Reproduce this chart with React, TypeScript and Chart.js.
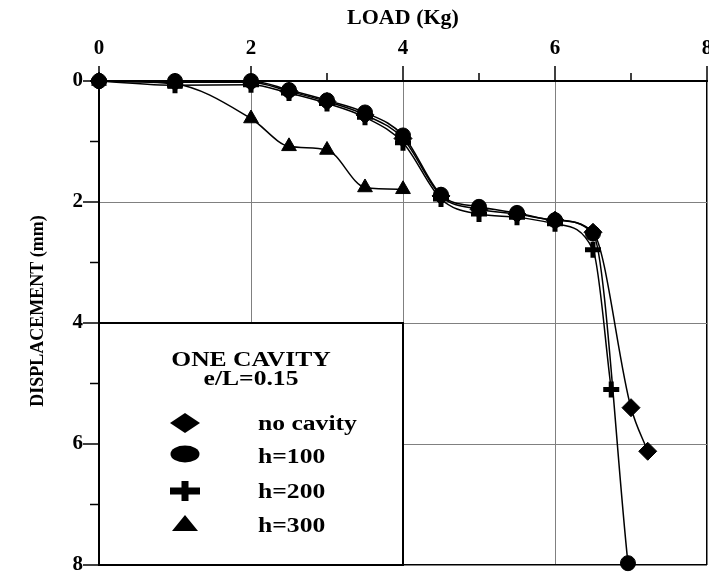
import React, { useEffect, useRef } from 'react';
import { Chart, registerables } from 'chart.js';

Chart.register(...registerables);

// ---- data ----
const loadNoCavity = [0, 1, 2, 2.5, 3, 3.5, 4, 4.5, 5, 5.5, 6, 6.5, 7.0, 7.22];
const dispNoCavity = [0, 0.02, 0.02, 0.17, 0.34, 0.56, 0.95, 1.9, 2.12, 2.2, 2.3, 2.5, 5.4, 6.12];

const loadH100 = [0, 1, 2, 2.5, 3, 3.5, 4, 4.5, 5, 5.5, 6, 6.5, 6.96];
const dispH100 = [0, 0, 0, 0.15, 0.32, 0.52, 0.9, 1.88, 2.08, 2.18, 2.3, 2.52, 7.97];

const loadH200 = [0, 1, 2, 2.5, 3, 3.5, 4, 4.5, 5, 5.5, 6, 6.5, 6.74];
const dispH200 = [0, 0.07, 0.06, 0.2, 0.37, 0.6, 1.02, 1.95, 2.2, 2.25, 2.36, 2.79, 5.1];

const loadH300 = [0, 1, 2, 2.5, 3, 3.5, 4];
const dispH300 = [0, 0.05, 0.62, 1.08, 1.14, 1.76, 1.79];

const xTickLabels = [0, 2, 4, 6, 8];
const yTickLabels = [0, 2, 4, 6, 8];
const xTitle = 'LOAD (Kg)';
const yTitle = 'DISPLACEMENT (mm)';
const legendTitle = ['ONE CAVITY', 'e/L=0.15'];
const seriesNames = ['no cavity', 'h=100', 'h=200', 'h=300'];

const SERIF = "'Liberation Serif', 'Times New Roman', serif";
const GRID_GRAY = '#808080';

const toPoints = (xs: number[], ys: number[]) => xs.map((x, i) => ({ x, y: ys[i] }));

const axisTicksPlugin = {
  id: 'axisTicks',
  afterDatasetsDraw(chart: any) {
    const { ctx, scales } = chart;
    const xs = scales.x;
    const ys = scales.y;
    const top = chart.chartArea.top;
    const left = chart.chartArea.left;
    ctx.save();
    ctx.strokeStyle = '#000';
    ctx.lineWidth = 1.5;
    xs.ticks.forEach((t: any) => {
      const px = xs.getPixelForValue(t.value);
      const len = t.value % 2 === 0 ? 15 : 8;
      ctx.beginPath();
      ctx.moveTo(px, top);
      ctx.lineTo(px, top - len);
      ctx.stroke();
    });
    ys.ticks.forEach((t: any) => {
      const py = ys.getPixelForValue(t.value);
      const len = t.value % 2 === 0 ? 16 : 9;
      ctx.beginPath();
      ctx.moveTo(left, py);
      ctx.lineTo(left - len, py);
      ctx.stroke();
    });
    // vertical axis title
    ctx.fillStyle = '#000';
    ctx.font = `bold 18px ${SERIF}`;
    ctx.textAlign = 'center';
    ctx.textBaseline = 'middle';
    ctx.translate(38, (chart.chartArea.top + chart.chartArea.bottom) / 2 - 12);
    ctx.rotate(-Math.PI / 2);
    ctx.fillText(yTitle, 0, 0);
    ctx.restore();
  },
};

const legendBoxPlugin = {
  id: 'legendBox',
  afterDatasetsDraw(chart: any) {
    const { ctx, scales } = chart;
    const xs = scales.x;
    const ys = scales.y;
    const L = xs.getPixelForValue(0);
    const R = xs.getPixelForValue(4);
    const T = ys.getPixelForValue(4);
    const B = ys.getPixelForValue(8);
    ctx.save();
    ctx.fillStyle = '#fff';
    ctx.fillRect(L, T, R - L, B - T);
    ctx.strokeStyle = '#000';
    ctx.lineWidth = 2;
    ctx.strokeRect(L, T, R - L, B - T);

    const stretch = 1.28;
    ctx.fillStyle = '#000';
    ctx.font = `bold 20px ${SERIF}`;
    ctx.textBaseline = 'middle';
    ctx.textAlign = 'center';
    const cx = (L + R) / 2;
    [38, 57].forEach((dy, i) => {
      ctx.save();
      ctx.translate(cx, T + dy);
      ctx.scale(stretch, 1);
      ctx.fillText(legendTitle[i], 0, 0);
      ctx.restore();
    });

    const symX = L + 86;
    const textX = L + 159;
    const symY = [100, 131, 168, 202];
    const baseY = [107, 140, 175, 209];
    ctx.textAlign = 'left';
    ctx.textBaseline = 'alphabetic';
    seriesNames.forEach((name, i) => {
      ctx.save();
      ctx.translate(textX, T + baseY[i]);
      ctx.scale(stretch, 1);
      ctx.fillText(name, 0, 0);
      ctx.restore();

      const sy = T + symY[i];
      ctx.beginPath();
      if (i === 0) {
        ctx.moveTo(symX, sy - 10);
        ctx.lineTo(symX + 15, sy);
        ctx.lineTo(symX, sy + 10);
        ctx.lineTo(symX - 15, sy);
        ctx.closePath();
        ctx.fill();
      } else if (i === 1) {
        ctx.ellipse(symX, sy, 14.5, 8.5, 0, 0, Math.PI * 2);
        ctx.fill();
      } else if (i === 2) {
        ctx.fillRect(symX - 15, sy - 3.5, 30, 7);
        ctx.fillRect(symX - 3.5, sy - 10, 7, 20);
      } else {
        ctx.moveTo(symX, sy - 10);
        ctx.lineTo(symX + 13, sy + 6);
        ctx.lineTo(symX - 13, sy + 6);
        ctx.closePath();
        ctx.fill();
      }
    });
    ctx.restore();
  },
};

export default function App() {
  const canvasRef = useRef<HTMLCanvasElement | null>(null);

  useEffect(() => {
    if (!canvasRef.current) return;
    const common = {
      showLine: true,
      borderColor: '#000',
      borderWidth: 1.5,
      cubicInterpolationMode: 'monotone' as const,
      pointBackgroundColor: '#000',
      pointBorderColor: '#000',
      clip: false as any,
    };
    const chart = new Chart(canvasRef.current, {
      type: 'scatter',
      data: {
        datasets: [
          {
            ...common,
            label: seriesNames[1],
            data: toPoints(loadH100, dispH100),
            pointStyle: 'circle',
            pointRadius: 7.5,
            pointBorderWidth: 1,
            order: 1,
          },
          {
            ...common,
            label: seriesNames[0],
            data: toPoints(loadNoCavity, dispNoCavity),
            pointStyle: 'rectRot',
            pointRadius: 9,
            pointBorderWidth: 1,
            order: 2,
          },
          {
            ...common,
            label: seriesNames[2],
            data: toPoints(loadH200, dispH200),
            pointStyle: 'cross',
            pointRadius: 8,
            pointBorderWidth: 5,
            order: 3,
          },
          {
            ...common,
            label: seriesNames[3],
            data: toPoints(loadH300, dispH300),
            pointStyle: 'triangle',
            pointRadius: 8.5,
            pointBorderWidth: 1,
            order: 4,
          },
        ],
      },
      options: {
        animation: false,
        responsive: false,
        maintainAspectRatio: false,
        devicePixelRatio: 1,
        layout: { autoPadding: false, padding: { left: 0, top: 0, right: 13, bottom: 13 } },
        plugins: {
          legend: { display: false },
          tooltip: { enabled: false },
        },
        scales: {
          x: {
            type: 'linear',
            position: 'top',
            min: 0,
            max: 8,
            afterFit: (s: any) => {
              s.height = 81;
              s.paddingLeft = 0;
              s.paddingRight = 0;
            },
            ticks: {
              stepSize: 1,
              autoSkip: false,
              maxRotation: 0,
              color: '#000',
              padding: 20,
              font: { family: SERIF, size: 21, weight: 'bold' },
              callback: (v: any) => (xTickLabels.includes(Number(v)) ? String(v) : ''),
            },
            grid: {
              drawTicks: false,
              color: (c: any) => {
                const v = c.tick && c.tick.value;
                if (v === 8) return '#000';
                if (v === 2 || v === 4 || v === 6) return GRID_GRAY;
                return 'rgba(0,0,0,0)';
              },
              lineWidth: (c: any) => (c.tick && c.tick.value === 8 ? 1.5 : 1),
            },
            border: { display: true, color: '#000', width: 2 },
            title: {
              display: true,
              text: xTitle,
              color: '#000',
              font: { family: SERIF, size: 22, weight: 'bold' },
              padding: { top: 5, bottom: 0 },
            },
          },
          y: {
            type: 'linear',
            position: 'left',
            reverse: true,
            min: 0,
            max: 8,
            afterFit: (s: any) => {
              s.width = 99;
              s.paddingTop = 0;
              s.paddingBottom = 0;
            },
            ticks: {
              stepSize: 1,
              autoSkip: false,
              color: '#000',
              padding: 16,
              font: { family: SERIF, size: 21, weight: 'bold' },
              callback: (v: any) => (yTickLabels.includes(Number(v)) ? String(v) : ''),
            },
            grid: {
              drawTicks: false,
              color: (c: any) => {
                const v = c.tick && c.tick.value;
                if (v === 8) return '#000';
                if (v === 2 || v === 4 || v === 6) return GRID_GRAY;
                return 'rgba(0,0,0,0)';
              },
              lineWidth: (c: any) => (c.tick && c.tick.value === 8 ? 1.5 : 1),
            },
            border: { display: true, color: '#000', width: 2 },
            title: { display: false },
          },
        },
      },
      plugins: [axisTicksPlugin, legendBoxPlugin],
    });
    return () => chart.destroy();
  }, []);

  return (
    <div
      style={{
        position: 'absolute',
        left: 0,
        top: 0,
        width: 709,
        height: 576,
        overflow: 'hidden',
        background: '#fff',
      }}
    >
      <canvas ref={canvasRef} width={720} height={578} style={{ display: 'block' }} />
    </div>
  );
}
